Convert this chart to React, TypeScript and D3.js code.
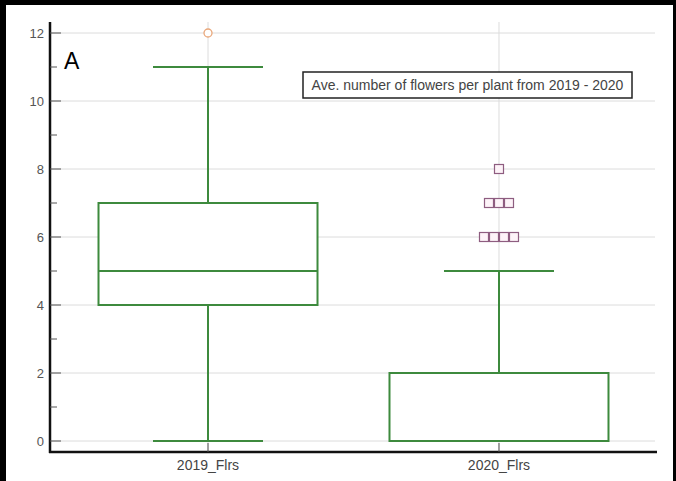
import React from "react";
import * as d3 from "d3";

const categories = ["2019_Flrs", "2020_Flrs"];
const whiskerLow = [0, 0];
const q1 = [4, 0];
const median = [5, 0];
const q3 = [7, 2];
const whiskerHigh = [11, 5];
const outliers2019 = [12];
const outliers2020 = [8, 7, 7, 7, 6, 6, 6, 6];
const yTicks = [0, 2, 4, 6, 8, 10, 12];
const yMinorTicks = [1, 3, 5, 7, 9, 11];
const legendText = "Ave. number of flowers per plant from 2019 - 2020";
const panelLabel = "A";

const W = 676;
const H = 481;

export default function App() {
  const x = d3.scalePoint<string>().domain(categories).range([50, 657]).padding(0.543);
  const y = d3.scaleLinear().domain([0, 12]).range([441, 33]);
  const axisTop = 22;
  const axisBottom = 452;
  const axisLeft = 50;
  const axisRight = 657;
  const boxHalf = 109.5;
  const capHalf = 55;
  const green = "#3d8a3d";
  const font = "'Liberation Sans', Arial, sans-serif";

  const outlierSets = [outliers2019, outliers2020];

  // place duplicate outliers side by side
  const placeOutliers = (vals: number[]) => {
    const groups = d3.group(vals, (v) => v);
    const out: { v: number; off: number }[] = [];
    groups.forEach((arr, v) => {
      const n = arr.length;
      arr.forEach((_, i) => out.push({ v, off: (i - (n - 1) / 2) * 10 }));
    });
    return out;
  };

  return (
    <svg
      width={W}
      height={H}
      style={{ position: "fixed", left: 0, top: 0, background: "#fff" }}
      fontFamily={font}
    >
      <rect x={0} y={0} width={W} height={H} fill="#fff" />
      {/* grid */}
      {yTicks.map((t) => (
        <line key={"g" + t} x1={axisLeft} x2={axisRight - 2} y1={y(t)} y2={y(t)} stroke="#dcdcdc" strokeWidth={1} />
      ))}
      {categories.map((c) => (
        <line key={"vg" + c} x1={x(c)} x2={x(c)} y1={axisTop} y2={axisBottom} stroke="#dcdcdc" strokeWidth={1} />
      ))}
      {/* boxes */}
      {categories.map((c, i) => {
        const cx = x(c) as number;
        return (
          <g key={"b" + c} stroke={green} strokeWidth={2} fill="none">
            <line x1={cx} x2={cx} y1={y(q3[i])} y2={y(whiskerHigh[i])} />
            <line x1={cx} x2={cx} y1={y(q1[i])} y2={y(whiskerLow[i])} />
            {whiskerHigh[i] !== q3[i] && (
              <line x1={cx - capHalf} x2={cx + capHalf} y1={y(whiskerHigh[i])} y2={y(whiskerHigh[i])} />
            )}
            {whiskerLow[i] !== q1[i] && (
              <line x1={cx - capHalf} x2={cx + capHalf} y1={y(whiskerLow[i])} y2={y(whiskerLow[i])} />
            )}
            <rect x={cx - boxHalf} y={y(q3[i])} width={boxHalf * 2} height={y(q1[i]) - y(q3[i])} fill="#fff" />
            <line x1={cx - boxHalf} x2={cx + boxHalf} y1={y(median[i])} y2={y(median[i])} />
          </g>
        );
      })}
      {/* outliers */}
      {placeOutliers(outlierSets[0]).map((o, k) => (
        <circle key={"o1" + k} cx={(x(categories[0]) as number) + o.off} cy={y(o.v)} r={4} fill="#fff" stroke="#e9a77a" strokeWidth={1.3} />
      ))}
      {placeOutliers(outlierSets[1]).map((o, k) => (
        <rect
          key={"o2" + k}
          x={(x(categories[1]) as number) + o.off - 4.5}
          y={y(o.v) - 4.5}
          width={9}
          height={9}
          fill="#fdf3f8"
          stroke="#8e5d80"
          strokeWidth={1.2}
        />
      ))}
      {/* axes */}
      <line x1={axisLeft} x2={axisLeft} y1={axisTop} y2={axisBottom + 1} stroke="#111" strokeWidth={2.5} />
      <line x1={axisLeft - 1} x2={axisRight} y1={axisBottom} y2={axisBottom} stroke="#111" strokeWidth={2.5} />
      {yTicks.map((t) => (
        <g key={"yt" + t}>
          <line x1={axisLeft} x2={axisLeft + 11} y1={y(t)} y2={y(t)} stroke="#555" strokeWidth={1} />
          <text x={44} y={y(t)} dy="0.35em" textAnchor="end" fontSize={13} fill="#555">
            {t}
          </text>
        </g>
      ))}
      {yMinorTicks.map((t) => (
        <line key={"ym" + t} x1={axisLeft} x2={axisLeft + 7} y1={y(t)} y2={y(t)} stroke="#555" strokeWidth={1} />
      ))}
      {categories.map((c) => (
        <g key={"xt" + c}>
          <line x1={x(c)} x2={x(c)} y1={axisBottom} y2={axisBottom - 9} stroke="#555" strokeWidth={1} />
          <text x={x(c)} y={470} textAnchor="middle" fontSize={14} fill="#444">
            {c}
          </text>
        </g>
      ))}
      {/* panel label */}
      <text x={64} y={69} fontSize={23} fill="#000">
        {panelLabel}
      </text>
      {/* legend */}
      <rect x={303} y={72} width={329} height={26} fill="#fff" stroke="#222" strokeWidth={1.5} />
      <text x={467.5} y={90} textAnchor="middle" fontSize={14} fill="#444">
        {legendText}
      </text>
      {/* frame */}
      <rect x={0} y={0} width={6} height={H} fill="#000" />
      <rect x={0} y={0} width={W} height={5} fill="#000" />
      <rect x={673} y={0} width={3} height={H} fill="#000" />
    </svg>
  );
}
